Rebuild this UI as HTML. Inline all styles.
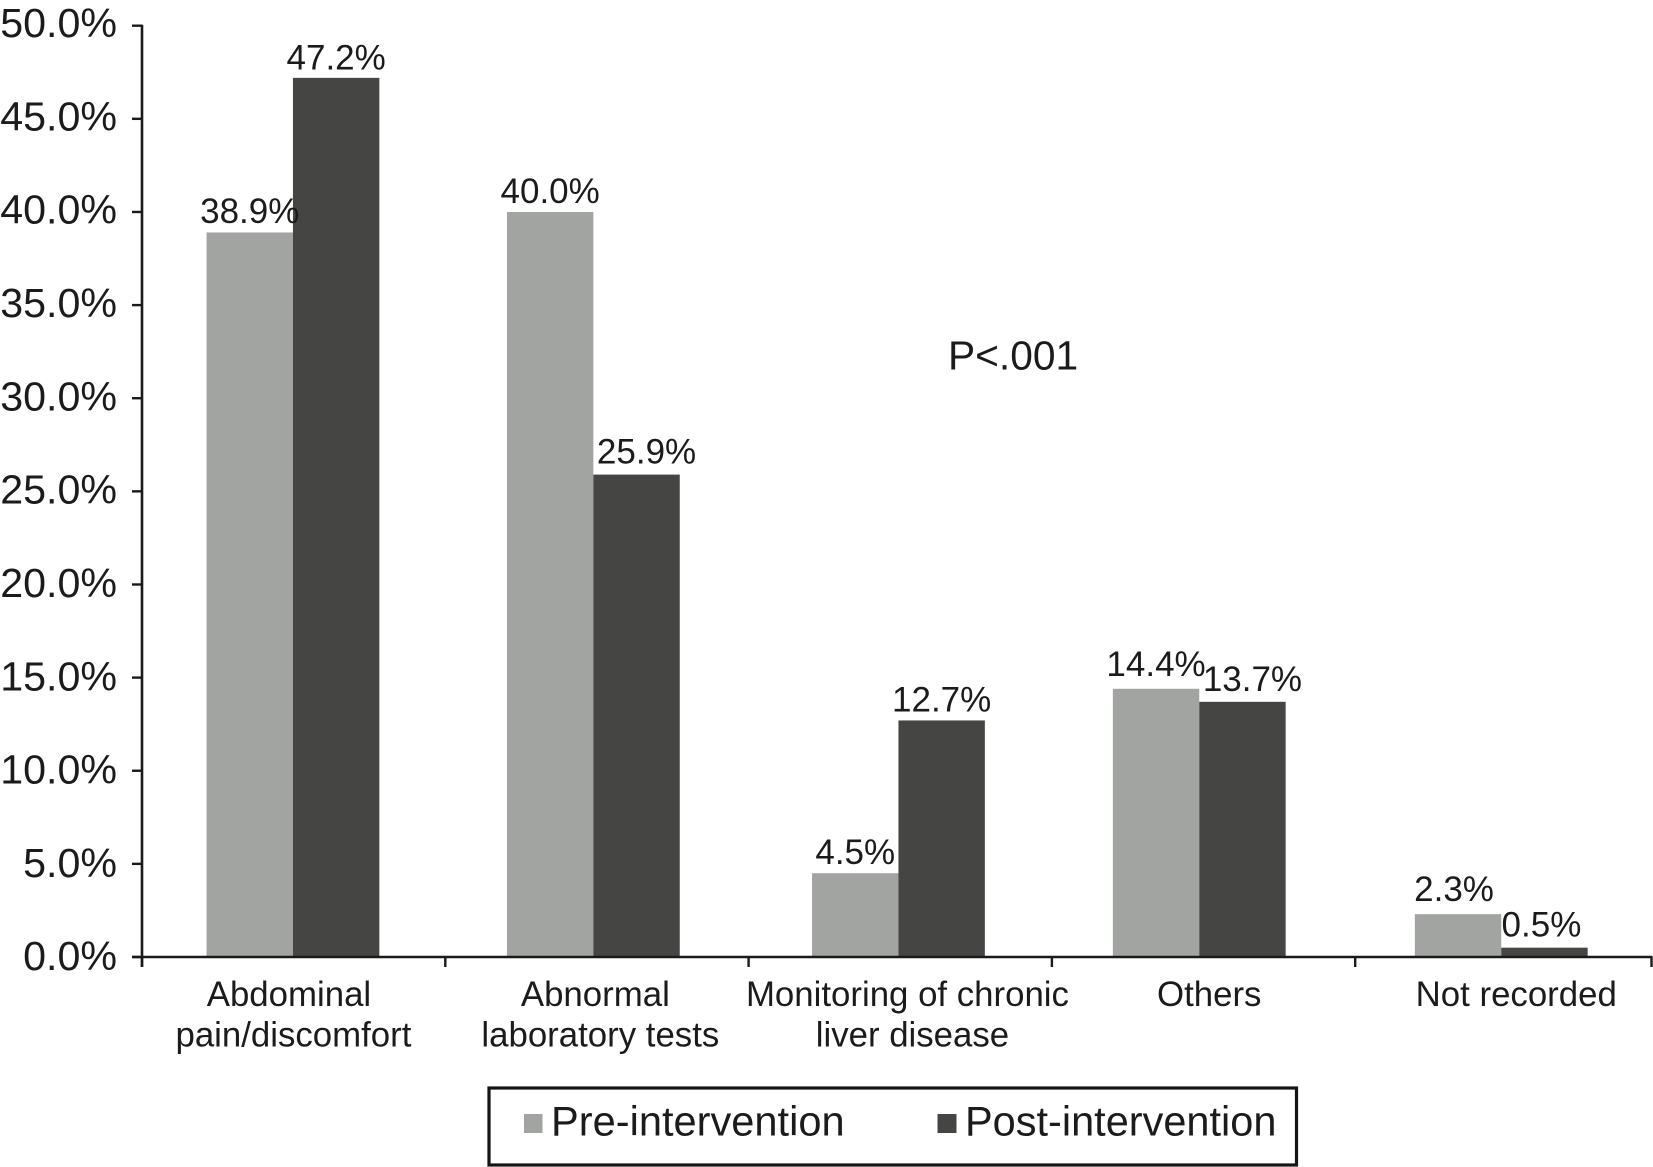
<!DOCTYPE html>
<html lang="en">
<head>
<meta charset="utf-8">
<title>Indications before and after intervention</title>
<style>
  html, body { margin: 0; padding: 0; background: #fff; }
  body { width: 1653px; height: 1167px; overflow: hidden; }
  svg { display: block; }
  text { font-family: "Liberation Sans", Arial, sans-serif; fill: #1b1b1b; }
</style>
</head>
<body>
<svg id="chart" xmlns="http://www.w3.org/2000/svg" width="1653" height="1167" viewBox="0 0 1653 1167">
  <rect x="0" y="0" width="1653" height="1167" fill="#ffffff"/>
  <g id="bars"></g>
  <g id="value-labels"></g>
  <g id="axes"></g>
  <text x="948" y="369.5" font-size="40.7">P&lt;.001</text>
  <g>
    <rect x="489" y="1088" width="807.5" height="77" fill="#ffffff" stroke="#151515" stroke-width="3.2"/>
    <g>
      <rect x="524" y="1114" width="18.5" height="19" fill="#a2a4a2"/>
      <text x="551" y="1135.5" font-size="41.6">Pre-intervention</text>
    </g>
    <g>
      <rect x="937.5" y="1114" width="19" height="19" fill="#454543"/>
      <text x="965" y="1135.5" font-size="41.5">Post-intervention</text>
    </g>
  </g>
</svg>
<script>
const categories = [
  ["Abdominal", "pain/discomfort"],
  ["Abnormal", "laboratory tests"],
  ["Monitoring of chronic", "liver disease"],
  ["Others"],
  ["Not recorded"]
];
const preIntervention = [38.9, 40.0, 4.5, 14.4, 2.3];
const postIntervention = [47.2, 25.9, 12.7, 13.7, 0.5];
const yTicks = [0, 5, 10, 15, 20, 25, 30, 35, 40, 45, 50];

const NS = "http://www.w3.org/2000/svg";
const plotLeft = 142, plotRight = 1651.5, plotTop = 25.7, plotBottom = 957;
const yMax = 50, barWidth = 86.4, tickStep = 303.3;
const bandWidth = (plotRight - plotLeft) / categories.length;
const seriesList = [
  { key: "pre", values: preIntervention, color: "#a2a4a2" },
  { key: "post", values: postIntervention, color: "#454543" }
];

function yScale(v) { return plotBottom - (v / yMax) * (plotBottom - plotTop); }
function groupCenter(i) {
  const hand = { 1: -1.5, 2: 1.7, 3: 0.6, 4: 0.7 };
  return plotLeft + (i + 0.5) * bandWidth + (hand[i] || 0);
}
function make(tag, attrs, parent) {
  const el = document.createElementNS(NS, tag);
  Object.keys(attrs).forEach(function (k) { el.setAttribute(k, attrs[k]); });
  parent.appendChild(el);
  return el;
}

const barsG = document.getElementById("bars");
const labelsG = document.getElementById("value-labels");
const axesG = document.getElementById("axes");

/* small manual label placement taken from the figure: [dx, gap above bar] */
const labelPlacement = {
  "0-0": [0, 9.5], "0-1": [0, 8.5],
  "1-0": [0, 9], "1-1": [10, 11],
  "2-0": [0, 9], "2-1": [0, 9],
  "3-0": [0, 13], "3-1": [10, 11],
  "4-0": [-4, 13], "4-1": [-3, 11]
};

seriesList.forEach(function (s, si) {
  s.values.forEach(function (v, i) {
    const x = groupCenter(i) + (si - 1) * barWidth;
    const bar = make("rect", {
      x: x, y: yScale(v), width: barWidth, height: plotBottom - yScale(v), fill: s.color
    }, barsG);
    
    

    const place = labelPlacement[i + "-" + si] || [0, 10];
    const label = make("text", {
      x: x + barWidth / 2 + place[0], y: yScale(v) - place[1],
      "font-size": 35, "text-anchor": "middle"
    }, labelsG);
    label.textContent = v.toFixed(1) + "%";
    
    
  });
});

const yAxis = make("line", {
  x1: plotLeft, x2: plotLeft, y1: plotTop - 1, y2: plotBottom + 10,
  stroke: "#1a1a1a", "stroke-width": 2.6
}, axesG);



const xAxis = make("line", {
  x1: plotLeft - 10, x2: plotRight + 1, y1: plotBottom, y2: plotBottom,
  stroke: "#1a1a1a", "stroke-width": 2.6
}, axesG);



yTicks.forEach(function (t) {
  const y = yScale(t);
  const tick = make("line", {
    x1: plotLeft - 10, x2: plotLeft, y1: y, y2: y,
    stroke: "#1a1a1a", "stroke-width": 2.4
  }, axesG);
  
  

  const label = make("text", {
    x: 117, y: y + 13.2 - 1.8 * t / yMax, "font-size": 41.2, "text-anchor": "end"
  }, axesG);
  label.textContent = t.toFixed(1) + "%";
  
  
});

for (let i = 0; i <= categories.length; i++) {
  const x = Math.min(plotLeft + i * tickStep, plotRight);
  const tick = make("line", {
    x1: x, x2: x, y1: plotBottom, y2: plotBottom + 10,
    stroke: "#1a1a1a", "stroke-width": 2.4
  }, axesG);
  
  
}

/* hand-placed offsets of the category text relative to each group centre */
const categoryNudge = [[-4, 0.5], [2, 7], [9, 14], [10], [15]];
categories.forEach(function (lines, i) {
  lines.forEach(function (line, li) {
    const label = make("text", {
      x: groupCenter(i) + categoryNudge[i][li], y: 1006 + li * 40.5,
      "font-size": 34.8, "text-anchor": "middle"
    }, axesG);
    label.textContent = line;
    
    
  });
});
</script>
</body>
</html>
